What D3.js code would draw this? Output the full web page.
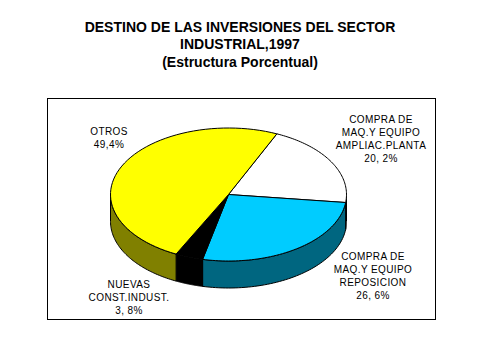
<!DOCTYPE html>
<html><head><meta charset="utf-8">
<script src="https://cdn.jsdelivr.net/npm/d3@7/dist/d3.min.js"></script>
<style>html,body{margin:0;padding:0;background:#fff}svg{display:block}text{font-family:"Liberation Sans",Arial,sans-serif;fill:#000}</style>
</head><body><svg id="c" width="479" height="359"></svg>
<script>
const categories=["COMPRA DE|MAQ.Y EQUIPO|AMPLIAC.PLANTA","COMPRA DE|MAQ.Y EQUIPO|REPOSICION","NUEVAS|CONST.INDUST.","OTROS"];
const values=[20.2,26.6,3.8,49.4];
const valueLabels=["20, 2%","26, 6%","3, 8%","49,4%"];
const topColors=["#ffffff","#00ccff","#000000","#ffff00"];
const sideColors=["#ffffff","#006680","#000000","#808000"];
const labelPos=[[381,123],[373,260],[129,288],[109,135]];
const titleLines=["DESTINO DE LAS INVERSIONES DEL SECTOR","INDUSTRIAL,1997"];
const subtitle="(Estructura Porcentual)";
const svg=d3.select("#c");
svg.append("rect").attr("x",47.5).attr("y",98.5).attr("width",388).attr("height",221).attr("fill","#fff").attr("stroke","#000");
titleLines.forEach((t,i)=>svg.append("text").attr("x",240).attr("y",32+i*17).attr("text-anchor","middle").attr("font-size",14).attr("font-weight","bold").text(t));
svg.append("text").attr("x",240).attr("y",67).attr("text-anchor","middle").attr("font-size",14).attr("font-weight","bold").text(subtitle);
const cx=228.5,cy=194.5,rx=118,ry=66.5,depth=27;
const start=24.2*Math.PI/180;
const arcs=d3.pie().sort(null).startAngle(start).endAngle(start+2*Math.PI)(values);
const px=a=>cx+rx*Math.sin(a), py=a=>cy-ry*Math.cos(a);
const line=d3.line().x(d=>d[0]).y(d=>d[1]);
function samples(a0,a1){return d3.range(0,61).map(i=>a0+(a1-a0)*i/60);}
arcs.forEach((d,i)=>{
  const a0=Math.max(d.startAngle,Math.PI/2),a1=Math.min(d.endAngle,3*Math.PI/2);
  if(a1<=a0)return;
  const s=samples(a0,a1);
  const pts=s.map(a=>[px(a),py(a)]).concat(s.slice().reverse().map(a=>[px(a),py(a)+depth]));
  svg.append("path").attr("d",line(pts)+"Z").attr("fill",sideColors[i]).attr("stroke","#000").attr("stroke-width",1);
});
arcs.forEach((d,i)=>{
  const pts=[[cx,cy]].concat(samples(d.startAngle,d.endAngle).map(a=>[px(a),py(a)]));
  svg.append("path").attr("d",line(pts)+"Z").attr("fill",topColors[i]).attr("stroke","#000").attr("stroke-width",1);
});
categories.forEach((c,i)=>{
  const lines=c.split("|").concat(valueLabels[i]);
  lines.forEach((t,j)=>svg.append("text").attr("x",labelPos[i][0]).attr("y",labelPos[i][1]+j*13).attr("text-anchor","middle").attr("font-size",10).attr("letter-spacing",0.4).text(t));
});
</script></body></html>
